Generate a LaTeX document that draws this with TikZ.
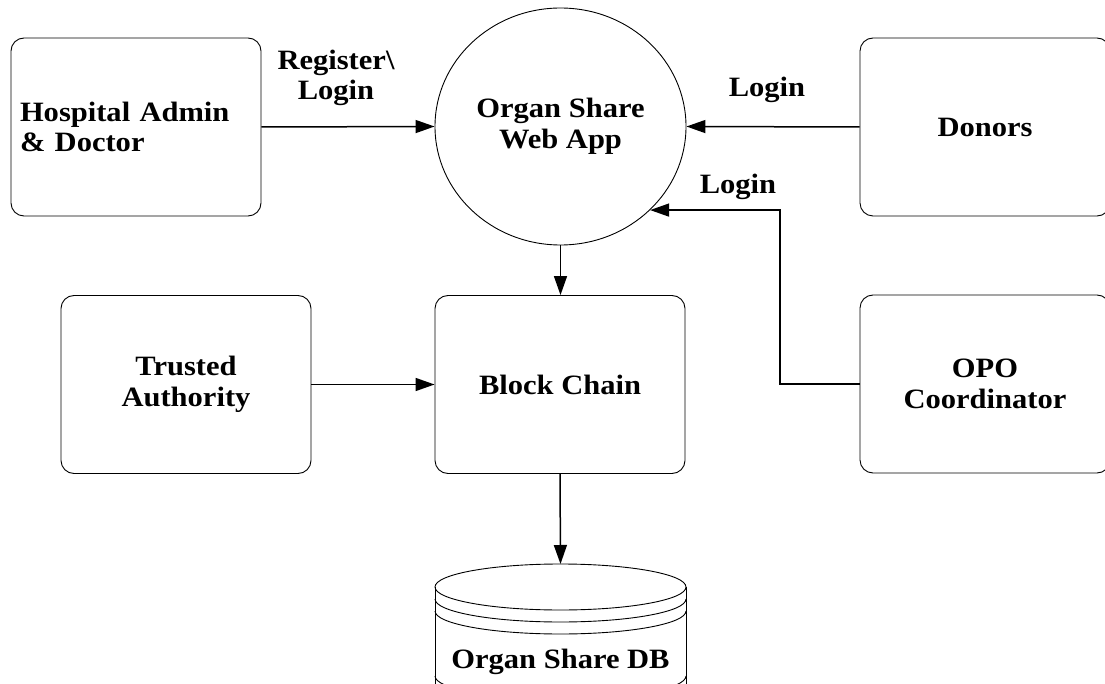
\documentclass[tikz,border=0pt]{standalone}
\usepackage{fontspec}
\setmainfont{Liberation Serif}[FakeStretch=1.09]
\usetikzlibrary{arrows.meta,calc,shapes.geometric}
\begin{document}
\begin{tikzpicture}[x=1pt,y=-1pt,
  txt/.style={font=\fontsize{28}{30.5}\selectfont\bfseries},
  box/.style={txt, draw, line width=0.9pt, rounded corners=13pt, minimum width=250pt, minimum height=178pt, inner sep=0pt, align=center},
  arr/.style={line width=1.5pt, -{Triangle[length=19pt,width=13pt]}},
  lbl/.style={txt, align=center, inner sep=0pt},
  thin/.style={line width=0.9pt}]
\useasboundingbox (0,0) rectangle (1105,684);
\node[box, text width=232pt, align=left] (hosp) at (136,127) {Hospital Admin\\\& Doctor};
\node[txt, shape=ellipse, draw, thin, minimum width=251pt, minimum height=237pt, inner sep=0pt, align=center] (app) at (560.5,126.5) {Organ Share\\Web App};
\node[box] (donors) at (985,127) {Donors};
\node[box] (trust) at (186,384.5) {Trusted\\Authority};
\node[box] (block) at (560,384.5) {Block Chain};
\node[box] (opo) at (985,384) {OPO\\Coordinator};
% database cylinder
\coordinate (dbtop) at (560.5,564);
\draw[thin] (560.5,587) ellipse [x radius=125.5, y radius=23];
\draw[thin] (435,587) -- (435,684);
\draw[thin] (686,587) -- (686,684);
\draw[thin] (435,599) arc[start angle=180, end angle=0, x radius=125.5, y radius=23];
\draw[thin] (435,611) arc[start angle=180, end angle=0, x radius=125.5, y radius=23];
\draw[thin] (435,676) arc[start angle=180, end angle=0, x radius=125.5, y radius=23];
\node[lbl] (db) at (560.5,662) {Organ Share DB};
% connectors
\draw[arr] (hosp.east) -- (app.west);
\draw[arr] (donors.west) -- (app.east);
\draw[arr] (app.south) -- (app.south |- block.north);
\draw[arr] (trust.east) -- (block.west);
\draw[arr] (block.south) -- (dbtop);
\draw[arr] (opo.west) -| ($(app.-43.7)+(130,0)$) -- (app.-43.7);
% labels
\node[lbl] (reg) at (336,78) {Register\textbackslash\\Login};
\node[lbl] (l1) at (767,90) {Login};
\node[lbl] (l2) at (738,187) {Login};
\end{tikzpicture}
\end{document}
